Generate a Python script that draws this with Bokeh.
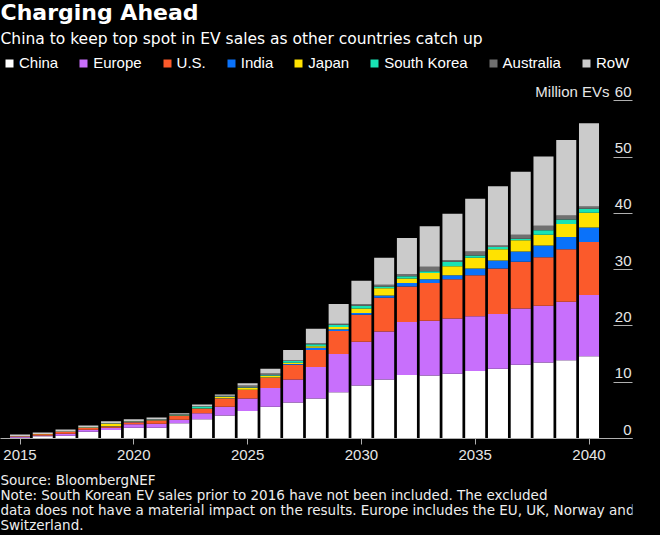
from bokeh.plotting import figure
from bokeh.layouts import column
from bokeh.models import Range1d, FixedTicker, Label, Legend, LegendItem, ColumnDataSource
from bokeh.embed import file_html
from bokeh.resources import INLINE

years = list(range(2015, 2041))
china = [0.12, 0.40, 0.50, 1.20, 1.50, 1.90, 1.90, 2.70, 3.40, 4.10, 4.90, 5.65, 6.40,
         7.10, 8.20, 9.40, 10.50, 11.30, 11.20, 11.50, 12.00, 12.40, 13.10, 13.50, 13.90, 14.60]
europe = [0.22, 0.15, 0.35, 0.35, 0.40, 0.65, 0.70, 0.65, 1.10, 1.55, 2.20, 3.30, 4.10,
          5.60, 6.80, 7.80, 8.50, 9.40, 9.70, 9.80, 9.70, 9.70, 10.00, 10.10, 10.40, 10.90]
us = [0.08, 0.20, 0.30, 0.35, 0.25, 0.35, 0.60, 0.70, 0.80, 1.45, 1.50, 1.85, 2.60,
      3.00, 4.10, 4.80, 6.00, 6.30, 6.70, 7.00, 7.30, 8.10, 8.30, 8.60, 9.30, 9.40]
india = [0.0, 0.0, 0.0, 0.01, 0.02, 0.02, 0.02, 0.02, 0.03, 0.05, 0.05, 0.05, 0.15,
         0.40, 0.30, 0.30, 0.40, 0.60, 0.70, 0.70, 1.20, 1.40, 1.80, 2.10, 2.20, 2.60]
japan = [0.02, 0.03, 0.05, 0.05, 0.45, 0.05, 0.08, 0.05, 0.05, 0.20, 0.30, 0.25, 0.20,
         0.30, 0.40, 0.80, 1.30, 0.80, 1.10, 1.60, 1.90, 2.00, 2.00, 1.90, 2.30, 2.60]
south_korea = [0.0, 0.01, 0.02, 0.03, 0.05, 0.05, 0.05, 0.10, 0.30, 0.10, 0.10, 0.15, 0.30,
               0.35, 0.40, 0.50, 0.30, 0.40, 0.30, 0.80, 0.40, 0.40, 0.30, 0.80, 0.80, 0.70]
australia = [0.01, 0.01, 0.01, 0.02, 0.03, 0.03, 0.05, 0.08, 0.05, 0.15, 0.35, 0.30, 0.15,
             0.15, 0.20, 0.30, 0.30, 0.40, 0.80, 0.30, 0.70, 0.30, 0.70, 0.80, 0.70, 0.40]
row = [0.28, 0.25, 0.35, 0.30, 0.35, 0.35, 0.35, 0.20, 0.30, 0.20, 0.40, 0.85, 1.80,
       2.60, 3.50, 4.10, 4.80, 6.40, 7.20, 8.20, 9.40, 10.50, 11.20, 12.30, 13.40, 14.80]

series = ["China", "Europe", "U.S.", "India", "Japan", "South Korea", "Australia", "RoW"]
colors = ["#ffffff", "#c86ffc", "#fb5a2b", "#0a72fa", "#ffe200", "#19e3b4", "#707070", "#cbcbcb"]
year_ticks = [2015, 2020, 2025, 2030, 2035, 2040]
value_ticks = [0, 10, 20, 30, 40, 50, 60]
value_tick_labels = ["0", "10", "20", "30", "40", "50", "60"]

title = "Charging Ahead"
subtitle = "China to keep top spot in EV sales as other countries catch up"
unit_label = "Million EVs"
notes = [
    "Source: BloombergNEF",
    "Note: South Korean EV sales prior to 2016 have not been included. The excluded",
    "data does not have a material impact on the results. Europe includes the EU, UK, Norway and",
    "Switzerland.",
]

SANS = "Arial"
X0, X1 = 2014.143, 2041.911
Y0, Y1 = 0, 77.8

source = ColumnDataSource(dict(year=years, China=china, Europe=europe, US=us, India=india,
                               Japan=japan, SK=south_korea, AU=australia, RoW=row))
keys = ["China", "Europe", "US", "India", "Japan", "SK", "AU", "RoW"]

p = figure(width=660, height=470,
           x_range=Range1d(X0, X1), y_range=Range1d(Y0, Y1),
           y_axis_location="right",
           output_backend="svg", toolbar_location=None,
           background_fill_color="#000000", border_fill_color="#000000",
           outline_line_color=None,
           min_border_left=0, min_border_right=28, min_border_top=0, min_border_bottom=32)
p.grid.visible = False

renderers = p.vbar_stack(keys, x="year", width=0.88, source=source,
                         fill_color=colors, line_color=None)

# x axis
xa = p.xaxis[0]
xa.ticker = FixedTicker(ticks=year_ticks)
xa.axis_line_color = "#b0b0b0"
xa.axis_line_width = 1
xa.major_tick_line_color = "#b0b0b0"
xa.major_tick_out = 6
xa.major_tick_in = 0
xa.minor_tick_line_color = None
xa.major_label_text_font = SANS
xa.major_label_text_font_size = "15px"
xa.major_label_text_color = "#e6e6e6"
xa.major_label_standoff = 5

# y axis (right): its ticks are drawn inward as the short underlines
ya = p.yaxis[0]
ya.ticker = FixedTicker(ticks=value_ticks)
ya.axis_line_color = None
ya.major_tick_line_color = "#b0b0b0"
ya.major_tick_in = 19
ya.major_tick_out = 0
ya.minor_tick_line_color = None
ya.major_label_overrides = {v: "" for v in value_ticks}

# value labels sitting on the underlines
lab_src = ColumnDataSource(dict(x=[X1] * len(value_ticks), y=value_ticks, t=value_tick_labels))
p.text(x="x", y="y", text="t", source=lab_src, text_align="right", text_baseline="middle",
       x_offset=-1, y_offset=-9, text_font_size="15px", text_color="#e6e6e6",
       text_font={"value": SANS})

legend = Legend(items=[LegendItem(label=s, renderers=[r]) for s, r in zip(series, renderers)],
                orientation="horizontal", location=(4, 367),
                glyph_width=10, glyph_height=10, label_standoff=5, spacing=20,
                padding=0, margin=0, label_height=15,
                label_text_font=SANS, label_text_font_size="15px",
                label_text_color="#ffffff", label_text_baseline="middle",
                border_line_color=None, background_fill_alpha=0)
p.add_layout(legend)

p.add_layout(Label(x=0, y=426.5, x_units="screen", y_units="screen", text=title,
                   text_font="DejaVu Sans", text_font_style="bold", text_font_size="22px",
                   text_color="#ffffff", text_baseline="middle"))
p.add_layout(Label(x=0, y=399.5, x_units="screen", y_units="screen", text=subtitle,
                   text_font="DejaVu Sans", text_font_size="15.5px",
                   text_color="#ffffff", text_baseline="middle"))
p.add_layout(Label(x=609, y=347, x_units="screen", y_units="screen", text=unit_label,
                   text_font=SANS, text_font_size="15px",
                   text_color="#e6e6e6", text_align="right", text_baseline="middle"))

# footnote strip
n = figure(width=660, height=65, x_range=Range1d(0, 1), y_range=Range1d(0, 1),
           x_axis_location=None, y_axis_location=None,
           output_backend="svg", toolbar_location=None,
           background_fill_color="#000000", border_fill_color="#000000",
           outline_line_color=None, min_border=0)
n.grid.visible = False
for line, yy in zip(notes, [55.4, 40.4, 25.4, 10.4]):
    n.add_layout(Label(x=0, y=yy, x_units="screen", y_units="screen", text=line,
                       text_font="DejaVu Sans", text_font_size="13.5px",
                       text_color="#eeeeee", text_baseline="middle"))

try:
    from bokeh.models import GlobalInlineStyleSheet
    sheets = [GlobalInlineStyleSheet(css="html, body { background-color: #000000; }")]
except Exception:
    sheets = []

layout = column(p, n, spacing=0, styles={"background-color": "#000000"}, stylesheets=sheets)
open("out.html", "w").write(file_html(layout, INLINE))
